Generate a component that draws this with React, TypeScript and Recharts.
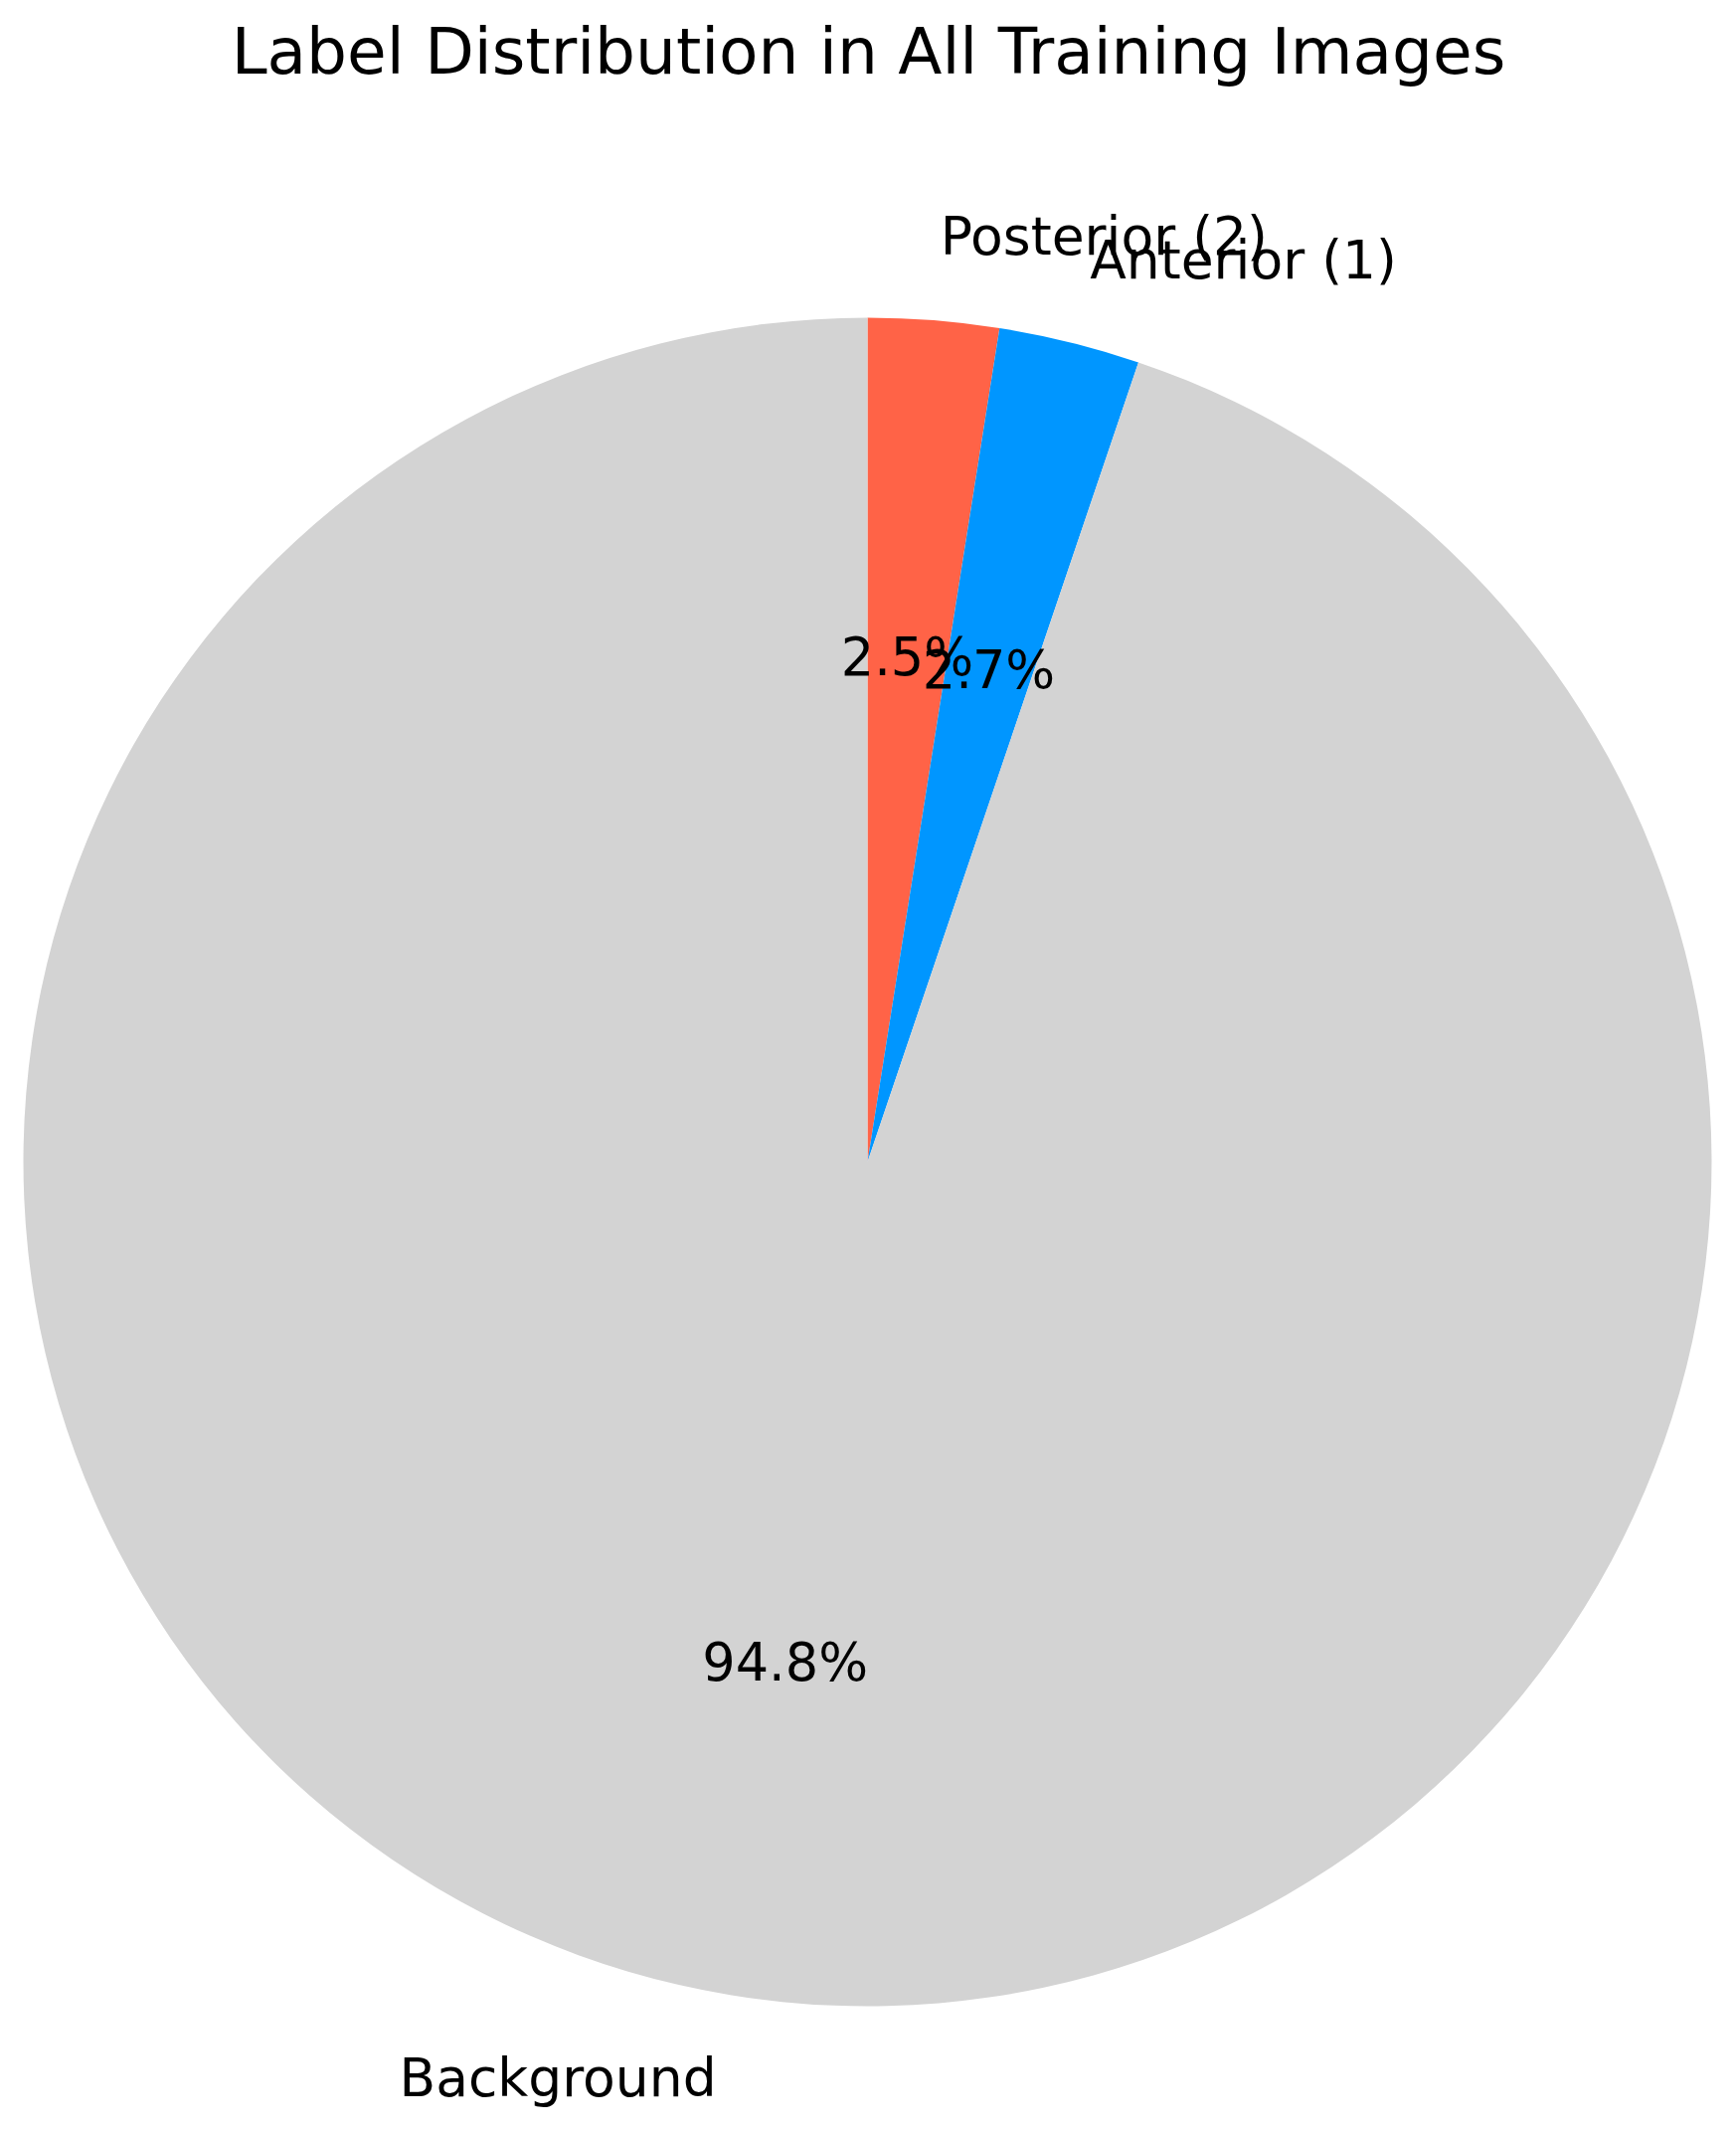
import React from 'react';
import { PieChart, Pie, Cell } from 'recharts';

const categories = ['Posterior (2)', 'Anterior (1)', 'Background'];
const shares = [2.5, 2.7, 94.8];
const colors = ['#FF6347', '#0096FF', '#D3D3D3'];
const title = 'Label Distribution in All Training Images';

const data = categories.map((name, i) => ({ name, value: shares[i] }));

const W = 1746;
const H = 2143;
const FONT = '"DejaVu Sans", sans-serif';
const RAD = Math.PI / 180;

const renderLabel = (props: any) => {
  const { cx, cy, midAngle, outerRadius, percent, name } = props;
  const cos = Math.cos(-midAngle * RAD);
  const sin = Math.sin(-midAngle * RAD);
  const ox = cx + outerRadius * 1.1 * cos;
  const oy = cy + outerRadius * 1.1 * sin;
  const ix = cx + outerRadius * 0.6 * cos;
  const iy = cy + outerRadius * 0.6 * sin;
  return (
    <g>
      <text
        x={ox}
        y={oy}
        textAnchor={ox > cx ? 'start' : 'end'}
        dominantBaseline="central"
        fontFamily={FONT}
        fontSize={53.5}
        fill="#000"
      >
        {name}
      </text>
      <text
        x={ix}
        y={iy}
        textAnchor="middle"
        dominantBaseline="central"
        fontFamily={FONT}
        fontSize={52.5}
        fill="#000"
      >
        {(percent * 100).toFixed(1) + '%'}
      </text>
    </g>
  );
};

export default function App() {
  return (
    <div style={{ position: 'absolute', left: 0, top: 0, width: W, height: H, background: '#fff' }}>
      <PieChart width={W} height={H} margin={{ top: 0, right: 0, bottom: 0, left: 0 }}>
        <Pie
          data={data}
          dataKey="value"
          nameKey="name"
          cx={872.5}
          cy={1168.5}
          outerRadius={849}
          startAngle={90}
          endAngle={-270}
          stroke="none"
          label={renderLabel}
          labelLine={false}
          isAnimationActive={false}
        >
          {data.map((d, i) => (
            <Cell key={d.name} fill={colors[i]} />
          ))}
        </Pie>
      </PieChart>
      <svg width={W} height={120} style={{ position: 'absolute', left: 0, top: 0, pointerEvents: 'none' }}>
        <text x={873.5} y={74} textAnchor="middle" fontFamily={FONT} fontSize={64.5} fill="#000">
          {title}
        </text>
      </svg>
    </div>
  );
}
